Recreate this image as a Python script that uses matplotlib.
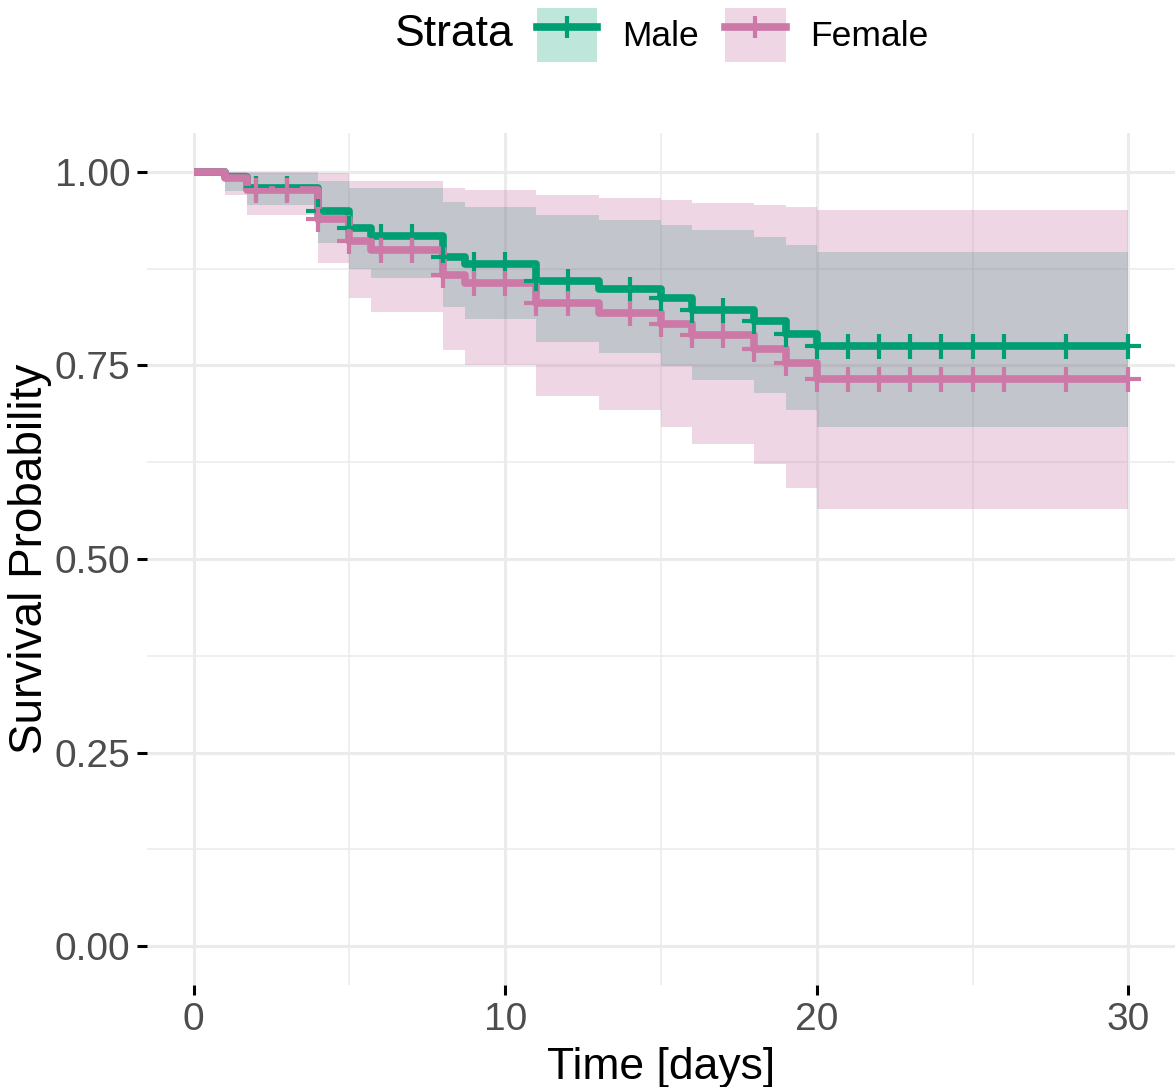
import numpy as np
import matplotlib.pyplot as plt
from matplotlib.patches import Patch
from matplotlib.lines import Line2D
from matplotlib.legend_handler import HandlerTuple

plt.rcParams['font.family'] = ['Liberation Sans', 'DejaVu Sans']

# Kaplan-Meier estimates (step changes, last step runs to day 30)
t_end = 30
male_time = [0, 1.0, 1.7, 4.0, 5.0, 5.7, 8.0, 8.7, 11, 13, 15, 16, 18, 19, 20]
male_surv = [1.000, 0.993, 0.979, 0.949, 0.927, 0.917, 0.890, 0.881, 0.859, 0.848, 0.837, 0.822, 0.807, 0.791, 0.775]
male_upper = [1.000, 1.000, 0.998, 0.988, 0.979, 0.979, 0.961, 0.955, 0.944, 0.938, 0.931, 0.925, 0.916, 0.905, 0.896]
male_lower = [1.000, 0.975, 0.957, 0.908, 0.875, 0.863, 0.825, 0.810, 0.780, 0.766, 0.749, 0.731, 0.714, 0.692, 0.670]

female_time = [0, 1.0, 1.7, 4.0, 5.0, 5.7, 8.0, 8.7, 11, 13, 15, 16, 18, 19, 20]
female_surv = [1.000, 0.992, 0.976, 0.939, 0.911, 0.899, 0.867, 0.856, 0.830, 0.817, 0.804, 0.789, 0.771, 0.753, 0.733]
female_upper = [1.000, 1.000, 1.000, 0.999, 0.988, 0.988, 0.979, 0.977, 0.970, 0.966, 0.964, 0.960, 0.957, 0.954, 0.951]
female_lower = [1.000, 0.970, 0.944, 0.882, 0.837, 0.819, 0.770, 0.750, 0.711, 0.692, 0.671, 0.648, 0.623, 0.592, 0.565]

# censoring times (same for both strata)
censor_times = [2, 3, 4, 5, 6, 7, 8, 9, 10, 11, 12, 14, 15, 16, 17, 18, 19, 20,
                21, 22, 23, 24, 25, 26, 28, 30]

groups = [
    ("Male", male_time, male_surv, male_lower, male_upper, "#009E73", 0.25),
    ("Female", female_time, female_surv, female_lower, female_upper, "#CC79A7", 0.3),
]

fig = plt.figure(figsize=(11.76, 10.87), dpi=100)
ax = fig.add_axes([147 / 1176, 102 / 1087, 1028 / 1176, 852 / 1087])

# ribbons first
for name, t, s, lo, up, col, a in groups:
    tt = np.append(t, t_end)
    ax.fill_between(tt, np.append(lo, lo[-1]), np.append(up, up[-1]),
                    step="post", color=col, alpha=a, linewidth=0, zorder=2)

for name, t, s, lo, up, col, a in groups:
    tt = np.append(t, t_end)
    ss = np.append(s, s[-1])
    ax.step(tt, ss, where="post", color=col, linewidth=5.5, zorder=3,
            solid_joinstyle="round", solid_capstyle="butt")
    idx = np.searchsorted(t, censor_times, side="right") - 1
    ax.plot(censor_times, np.array(s)[idx], linestyle="none", marker="+",
            markersize=18, markeredgewidth=3, color=col, zorder=4)

ax.set_xlim(-1.5, 31.5)
ax.set_ylim(-0.05, 1.05)
ax.set_xticks([0, 10, 20, 30])
ax.set_xticks([5, 15, 25], minor=True)
ax.set_yticks([0, 0.25, 0.5, 0.75, 1.0])
ax.set_yticks([0.125, 0.375, 0.625, 0.875], minor=True)
ax.set_yticklabels(["0.00", "0.25", "0.50", "0.75", "1.00"])
ax.grid(True, which="major", color="#EBEBEB", linewidth=2.2, zorder=0)
ax.grid(True, which="minor", color="#EBEBEB", linewidth=1.1, zorder=0)
ax.set_axisbelow(True)
for sp in ax.spines.values():
    sp.set_visible(False)
ax.tick_params(which="major", length=7, width=2.2, color="#000000",
               labelsize=28, labelcolor="#4D4D4D", pad=5)
ax.tick_params(which="minor", length=0)

ax.set_xlabel("Time [days]", fontsize=32, labelpad=7)
ax.set_ylabel("Survival Probability", fontsize=33, labelpad=2)

# legend along the top
handles = []
for name, t, s, lo, up, col, a in groups:
    handles.append((Patch(facecolor=col, alpha=a, edgecolor="none"),
                    Line2D([], [], color=col, linewidth=5.5, marker="+",
                           markersize=16, markeredgewidth=3)))
fig.text(395 / 1176, 1 - 35 / 1087, "Strata", fontsize=32, va="center", ha="left")
fig.legend(handles, [g[0] for g in groups], ncol=2, frameon=False,
           loc="center left", bbox_to_anchor=(537 / 1176, 1 - 35 / 1087),
           handler_map={tuple: HandlerTuple(ndivide=1)},
           fontsize=25.5, handlelength=1.7, handleheight=1.95,
           handletextpad=0.7, columnspacing=0.75, borderpad=0,
           borderaxespad=0)

fig.savefig("out.png", dpi=100)
